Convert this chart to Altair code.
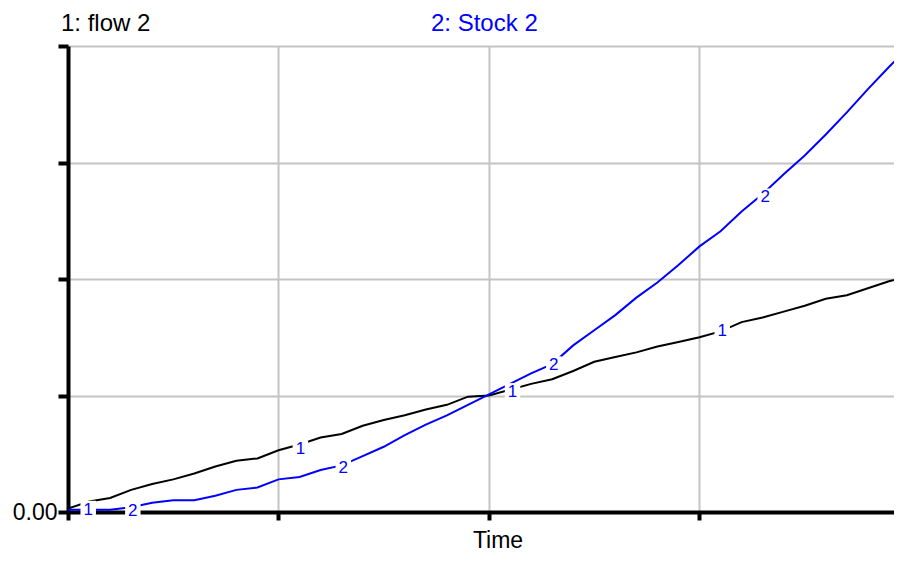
import altair as alt
import pandas as pd

# ---- data ----
time = [0, 2.5, 5, 7.5, 10, 12.5, 15, 17.5, 20, 22.5,
        25, 27.5, 30, 32.5, 35, 37.5, 40, 42.5, 45, 47.5,
        50, 52.5, 55, 57.5, 60, 62.5, 65, 67.5, 70, 72.5,
        75, 77.5, 80, 82.5, 85, 87.5, 90, 92.5, 95, 97.5, 100]

flow2 = [0.03, 0.09, 0.12, 0.19, 0.24, 0.28, 0.33, 0.39, 0.44, 0.46,
         0.53, 0.58, 0.64, 0.67, 0.74, 0.79, 0.83, 0.88, 0.92, 0.99,
         1.00, 1.05, 1.10, 1.14, 1.21, 1.29, 1.33, 1.37, 1.42, 1.46,
         1.50, 1.55, 1.63, 1.67, 1.72, 1.77, 1.83, 1.86, 1.92, 1.98, 2.03]

stock2 = [0.02, 0.02, 0.02, 0.04, 0.08, 0.10, 0.10, 0.14, 0.19, 0.21,
          0.28, 0.30, 0.36, 0.40, 0.48, 0.56, 0.66, 0.75, 0.83, 0.92,
          1.01, 1.10, 1.19, 1.27, 1.43, 1.56, 1.69, 1.84, 1.97, 2.12,
          2.28, 2.41, 2.58, 2.73, 2.90, 3.06, 3.24, 3.43, 3.63, 3.82, 4.00]

series_names = ["1: flow 2", "2: Stock 2"]
series_colors = ["#000000", "#0000FF"]

label1_t = [2.4, 27.6, 52.8, 77.7]
label1_v = [0.03, 0.55, 1.04, 1.56]
label2_t = [7.7, 32.7, 57.7, 82.8]
label2_v = [0.02, 0.39, 1.27, 2.71]

x_ticks = [0, 25, 50, 75]
y_ticks = [0, 1, 2, 3, 4]

FONT = "Liberation Sans"

df1 = pd.DataFrame({"t": time, "v": flow2})
df2 = pd.DataFrame({"t": time, "v": stock2})
lab = pd.DataFrame({
    "t": label1_t + label2_t,
    "v": label1_v + label2_v,
    "txt": ["1"] * len(label1_t) + ["2"] * len(label2_t),
})
hdr1 = pd.DataFrame({"name": [series_names[0]]})
hdr2 = pd.DataFrame({"name": [series_names[1]]})

x_enc = alt.X(
    "t:Q",
    scale=alt.Scale(domain=[0, 98.1], nice=False, zero=False),
    axis=alt.Axis(
        values=x_ticks, grid=True, labels=False,
        ticks=True, tickSize=8, tickWidth=4, tickColor="black",
        domain=True, domainColor="black", domainWidth=4,
        gridColor="#c4c4c4", gridWidth=2,
        title="Time", titleX=429.5, titleY=35, titleBaseline="alphabetic",
        titleAlign="center", titleFont=FONT, titleFontSize=23,
        titleFontWeight="normal", titleColor="black",
    ),
)
y_enc = alt.Y(
    "v:Q",
    scale=alt.Scale(domain=[0, 4], nice=False, zero=True),
    axis=alt.Axis(
        values=y_ticks, grid=True,
        ticks=True, tickSize=10, tickWidth=4, tickColor="black",
        domain=True, domainColor="black", domainWidth=4,
        gridColor="#c4c4c4", gridWidth=2,
        labelExpr="datum.value === 0 ? '0.00' : ''",
        labelFont=FONT, labelFontSize=23, labelColor="black", labelPadding=1,
        title=None,
    ),
)

line1 = alt.Chart(df1).mark_line(color=series_colors[0], strokeWidth=2, clip=True).encode(x=x_enc, y=y_enc)
line2 = alt.Chart(df2).mark_line(color=series_colors[1], strokeWidth=2, clip=True).encode(x=x_enc, y=y_enc)

boxes = alt.Chart(lab).mark_square(size=240, color="white", opacity=1, filled=True).encode(x=x_enc, y=y_enc)
texts = alt.Chart(lab).mark_text(
    color="#0000FF", font=FONT, fontSize=17, baseline="middle", align="center", dy=1
).encode(x=x_enc, y=y_enc, text="txt:N")

head1 = alt.Chart(hdr1).mark_text(
    color=series_colors[0], font=FONT, fontSize=24, align="left", baseline="alphabetic"
).encode(x=alt.value(-7), y=alt.value(-15), text="name:N")
head2 = alt.Chart(hdr2).mark_text(
    color=series_colors[1], font=FONT, fontSize=24, align="left", baseline="alphabetic"
).encode(x=alt.value(363), y=alt.value(-15), text="name:N")

chart = alt.layer(line1, line2, boxes, texts, head1, head2).properties(
    width=826, height=466,
    padding={"left": 60, "top": 38, "right": 0, "bottom": 40},
    autosize=alt.AutoSizeParams(type="none"),
    background="white",
).configure_view(stroke=None)

chart.save("out.html", embed_options={"renderer": "svg", "actions": False})
